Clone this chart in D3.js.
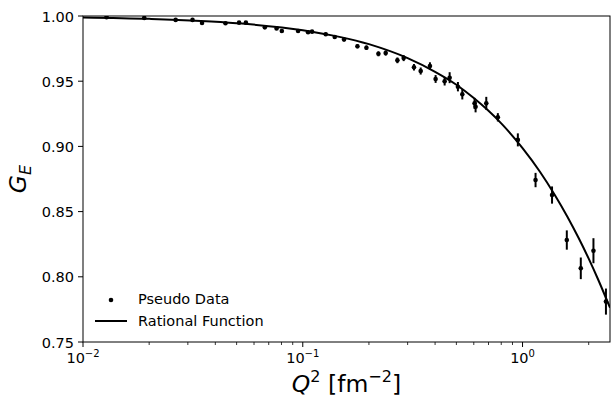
<!DOCTYPE html>
<html>
<head>
<meta charset="utf-8">
<script src="https://cdn.jsdelivr.net/npm/d3@7"></script>
<style>
body { margin: 0; background: #fff; }
text { font-family: "DejaVu Sans", sans-serif; fill: #000; }
</style>
</head>
<body>
<svg width="612" height="398"></svg>
<script>
// pseudo data points (Q^2 in fm^-2, G_E, error)
var q2 = [0.0128, 0.0190, 0.0264, 0.0315, 0.0348, 0.0445, 0.0513, 0.0551, 0.0672, 0.0760,
  0.0803, 0.0952, 0.1057, 0.1102, 0.1272, 0.1398, 0.1541, 0.1773, 0.1948, 0.2209,
  0.2384, 0.2695, 0.2878, 0.3206, 0.3440, 0.3790, 0.4022, 0.4421, 0.4659, 0.5081,
  0.5320, 0.6050, 0.6114, 0.6839, 0.7721, 0.9520, 1.146, 1.362, 1.590, 1.841,
  2.102, 2.396];
var ge = [0.9990, 0.9985, 0.9970, 0.9970, 0.9946, 0.9944, 0.9949, 0.9949, 0.9913, 0.9905,
  0.9885, 0.9885, 0.9875, 0.9880, 0.9860, 0.9839, 0.9820, 0.9768, 0.9757, 0.9710,
  0.9716, 0.9660, 0.9677, 0.9607, 0.9578, 0.9617, 0.9517, 0.9500, 0.9527, 0.9458,
  0.9400, 0.9330, 0.9304, 0.9330, 0.9223, 0.9050, 0.8742, 0.8627, 0.8282, 0.8065,
  0.8200, 0.7810];
var err = [0.0006, 0.0006, 0.0007, 0.0007, 0.0007, 0.0008, 0.0008, 0.0008, 0.0009, 0.0010,
  0.0010, 0.0011, 0.0012, 0.0012, 0.0013, 0.0014, 0.0015, 0.0016, 0.0017, 0.0019,
  0.0020, 0.0022, 0.0023, 0.0025, 0.0027, 0.0028, 0.0030, 0.0033, 0.0042, 0.0036,
  0.0040, 0.0042, 0.0043, 0.0050, 0.0032, 0.0050, 0.0055, 0.0066, 0.0074, 0.0083,
  0.0096, 0.0100];

// rational function curve
var fitQ2 = [0.01, 0.02, 0.05, 0.1, 0.2, 0.3, 0.4, 0.5, 0.6, 0.7, 0.8, 1.0, 1.2, 1.4, 1.6, 1.8, 2.0, 2.2, 2.5];
var fitGe = [0.9989, 0.9978, 0.9945, 0.9891, 0.9784, 0.9677, 0.9572, 0.9473, 0.9371, 0.9273,
  0.9177, 0.8987, 0.8806, 0.8630, 0.8461, 0.8297, 0.8139, 0.7985, 0.7763];

var yTicks = [0.75, 0.80, 0.85, 0.90, 0.95, 1.00];
var xMajor = [0.01, 0.1, 1];
var xMajorExp = ["\u22122", "\u22121", "0"];

var svg = d3.select("svg"),
  margin = {top: 16, right: 2, bottom: 56, left: 83},
  width = +svg.attr("width") - margin.left - margin.right,
  height = +svg.attr("height") - margin.top - margin.bottom,
  g = svg.append("g").attr("transform", "translate(" + margin.left + "," + margin.top + ")");

var x = d3.scaleLog().domain([0.01, 2.5]).range([0, width]);
var y = d3.scaleLinear().domain([0.75, 1.0]).range([height, 0]);

// frame
g.append("rect")
  .attr("width", width).attr("height", height)
  .attr("fill", "none").attr("stroke", "#000").attr("stroke-width", 1);

// y axis ticks
var yt = g.selectAll(".ytick").data(yTicks).enter().append("g")
  .attr("transform", function(d) { return "translate(0," + y(d) + ")"; });
yt.append("line").attr("x1", -5).attr("x2", 0).attr("stroke", "#000");
yt.append("text").attr("x", -9).attr("dy", "0.38em")
  .attr("text-anchor", "end").style("font-size", "14.5px")
  .text(function(d) { return d.toFixed(2); });

// x minor ticks
var minor = x.ticks().filter(function(d) { return xMajor.indexOf(d) < 0; });
g.selectAll(".xminor").data(minor).enter().append("line")
  .attr("x1", function(d) { return x(d); }).attr("x2", function(d) { return x(d); })
  .attr("y1", height).attr("y2", height + 3).attr("stroke", "#000").attr("stroke-width", 0.8);

// x major ticks
var xt = g.selectAll(".xtick").data(xMajor).enter().append("g")
  .attr("transform", function(d) { return "translate(" + x(d) + "," + height + ")"; });
xt.append("line").attr("y1", 0).attr("y2", 5).attr("stroke", "#000");
var xl = xt.append("text").attr("y", 21).attr("text-anchor", "middle").style("font-size", "14.5px");
xl.append("tspan").text("10");
xl.append("tspan").attr("dy", -6).style("font-size", "10px").text(function(d, i) { return xMajorExp[i]; });

// axis labels
var xlab = svg.append("text")
  .attr("x", margin.left + width / 2).attr("y", 392)
  .attr("text-anchor", "middle").style("font-size", "23.5px");
xlab.append("tspan").style("font-style", "italic").text("Q");
xlab.append("tspan").attr("dy", -10).style("font-size", "16px").text("2");
xlab.append("tspan").attr("dy", 10).text(" [fm");
xlab.append("tspan").attr("dy", -10).style("font-size", "16px").text("\u22122");
xlab.append("tspan").attr("dy", 10).text("]");

var ylab = svg.append("text")
  .attr("transform", "translate(26," + (margin.top + height / 2) + ") rotate(-90)")
  .attr("text-anchor", "middle").style("font-size", "23.5px");
ylab.append("tspan").style("font-style", "italic").text("G");
ylab.append("tspan").attr("dy", 5).style("font-size", "16px").style("font-style", "italic").text("E");

// clip to plot area
svg.append("clipPath").attr("id", "clip").append("rect")
  .attr("width", width).attr("height", height);
var plot = g.append("g").attr("clip-path", "url(#clip)");

// rational function line
var line = d3.line()
  .x(function(d) { return x(d[0]); })
  .y(function(d) { return y(d[1]); })
  .curve(d3.curveMonotoneX);
plot.append("path")
  .datum(d3.zip(fitQ2, fitGe))
  .attr("fill", "none").attr("stroke", "#000").attr("stroke-width", 2)
  .attr("d", line);

// error bars and points
var pts = d3.range(q2.length);
plot.selectAll(".eb").data(pts).enter().append("line")
  .attr("x1", function(i) { return x(q2[i]); }).attr("x2", function(i) { return x(q2[i]); })
  .attr("y1", function(i) { return y(ge[i] - err[i]); })
  .attr("y2", function(i) { return y(ge[i] + err[i]); })
  .attr("stroke", "#000").attr("stroke-width", 2);
plot.selectAll(".pt").data(pts).enter().append("circle")
  .attr("cx", function(i) { return x(q2[i]); })
  .attr("cy", function(i) { return y(ge[i]); })
  .attr("r", 2.3).attr("fill", "#000");

// legend
var leg = svg.append("g").attr("transform", "translate(95,299)");
leg.append("circle").attr("cx", 16).attr("cy", 1).attr("r", 2.3).attr("fill", "#000");
leg.append("text").attr("x", 43).attr("dy", "0.35em").style("font-size", "14.5px").text("Pseudo Data");
leg.append("line").attr("x1", 0).attr("x2", 32).attr("y1", 22).attr("y2", 22)
  .attr("stroke", "#000").attr("stroke-width", 2);
leg.append("text").attr("x", 43).attr("y", 22).attr("dy", "0.35em").style("font-size", "14.5px").text("Rational Function");
</script>
</body>
</html>
